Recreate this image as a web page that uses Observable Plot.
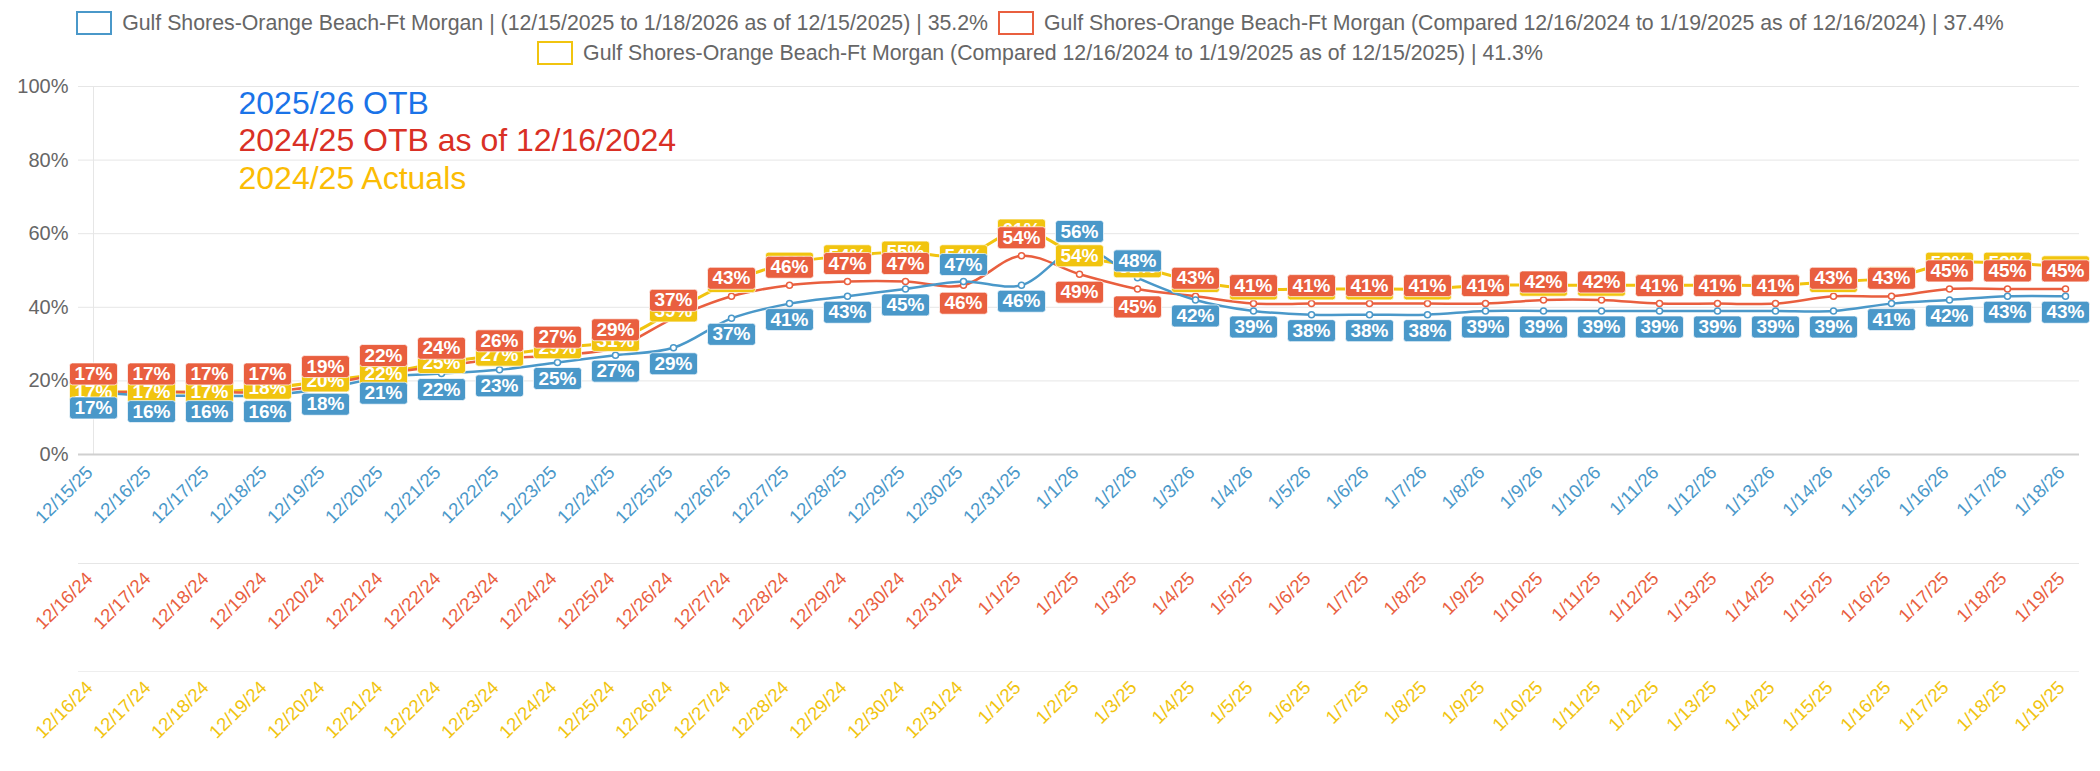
<!DOCTYPE html>
<html>
<head>
<meta charset="utf-8">
<script src="https://cdn.jsdelivr.net/npm/d3@7"></script>
<script src="https://cdn.jsdelivr.net/npm/@observablehq/plot@0.6"></script>
<style>
  body { margin: 0; background: #fff; font-family: "Liberation Sans", Arial, sans-serif; }
  #legend { width: 2080px; height: 70px; padding-top: 8px; box-sizing: border-box; }
  .row { display: flex; justify-content: center; align-items: center; height: 30px; }
  .item { display: flex; align-items: center; margin: 0 5px; font-size: 21.3px; color: #666; white-space: nowrap; }
  .swatch { width: 32px; height: 20px; border: 2px solid; background: #fff; margin-right: 10px; box-sizing: content-box; }
</style>
</head>
<body>
<div id="legend"></div>
<div id="chart"></div>
<script>
// ---- data ----
const ticks2526 = ["12/15/25","12/16/25","12/17/25","12/18/25","12/19/25","12/20/25","12/21/25","12/22/25","12/23/25","12/24/25","12/25/25","12/26/25","12/27/25","12/28/25","12/29/25","12/30/25","12/31/25","1/1/26","1/2/26","1/3/26","1/4/26","1/5/26","1/6/26","1/7/26","1/8/26","1/9/26","1/10/26","1/11/26","1/12/26","1/13/26","1/14/26","1/15/26","1/16/26","1/17/26","1/18/26"];
const ticks2425 = ["12/16/24","12/17/24","12/18/24","12/19/24","12/20/24","12/21/24","12/22/24","12/23/24","12/24/24","12/25/24","12/26/24","12/27/24","12/28/24","12/29/24","12/30/24","12/31/24","1/1/25","1/2/25","1/3/25","1/4/25","1/5/25","1/6/25","1/7/25","1/8/25","1/9/25","1/10/25","1/11/25","1/12/25","1/13/25","1/14/25","1/15/25","1/16/25","1/17/25","1/18/25","1/19/25"];

const otb2526 = [17,16,16,16,18,21,22,23,25,27,29,37,41,43,45,47,46,56,48,42,39,38,38,38,39,39,39,39,39,39,39,41,42,43,43];
const otb2425 = [17,17,17,17,19,22,24,26,27,29,37,43,46,47,47,46,54,49,45,43,41,41,41,41,41,42,42,41,41,41,43,43,45,45,45];
const actual2425 = [17,17,17,18,20,22,25,27,29,31,39,47,52,54,55,54,61,54,51,47,45,45,45,45,46,46,46,46,46,46,47,48,52,52,51];

const legendLabels = [
  "Gulf Shores-Orange Beach-Ft Morgan | (12/15/2025 to 1/18/2026 as of 12/15/2025) | 35.2%",
  "Gulf Shores-Orange Beach-Ft Morgan (Compared 12/16/2024 to 1/19/2025 as of 12/16/2024) | 37.4%",
  "Gulf Shores-Orange Beach-Ft Morgan (Compared 12/16/2024 to 1/19/2025 as of 12/15/2025) | 41.3%"
];
const annotations = ["2025/26 OTB", "2024/25 OTB as of 12/16/2024", "2024/25 Actuals"];
const yTicks = [0, 0.2, 0.4, 0.6, 0.8, 1];

// ---- styles ----
const BLUE = "#4a98c9", RED = "#e95f3f", YELLOW = "#f1c40f";
const ANN_COLORS = ["#1a73e8", "#d93025", "#fbbc04"];
const ANN_DY = [17, 54, 92];

// ---- legend ----
const legend = document.getElementById("legend");
const rows = [[0, 1], [2]];
const legColors = [BLUE, RED, YELLOW];
rows.forEach(r => {
  const row = document.createElement("div");
  row.className = "row";
  r.forEach(i => {
    const it = document.createElement("div");
    it.className = "item";
    const sw = document.createElement("span");
    sw.className = "swatch";
    sw.style.borderColor = legColors[i];
    it.appendChild(sw);
    it.appendChild(document.createTextNode(legendLabels[i]));
    row.appendChild(it);
  });
  legend.appendChild(row);
});

// ---- table ----
const idx = d3.range(ticks2526.length);
const rowsData = idx.map(i => ({i, blue: otb2526[i] / 100, red: otb2425[i] / 100, yellow: actual2425[i] / 100}));
const redAbove = rowsData.filter(d => d.red >= d.blue);
const redBelow = rowsData.filter(d => d.red < d.blue);
const blueAbove = rowsData.filter(d => d.blue > d.red);
const blueBelow = rowsData.filter(d => d.blue <= d.red);

const pct = v => Math.round(v * 100) + "%";

const boxSymbol = {
  draw(ctx) {
    const w = 48, h = 22, r = 3;
    ctx.moveTo(-w / 2 + r, -h / 2);
    ctx.lineTo(w / 2 - r, -h / 2);
    ctx.arcTo(w / 2, -h / 2, w / 2, -h / 2 + r, r);
    ctx.lineTo(w / 2, h / 2 - r);
    ctx.arcTo(w / 2, h / 2, w / 2 - r, h / 2, r);
    ctx.lineTo(-w / 2 + r, h / 2);
    ctx.arcTo(-w / 2, h / 2, -w / 2, h / 2 - r, r);
    ctx.lineTo(-w / 2, -h / 2 + r);
    ctx.arcTo(-w / 2, -h / 2, -w / 2 + r, -h / 2, r);
    ctx.closePath();
  }
};

function labelMarks(data, key, color, dy) {
  return [
    Plot.dot(data, {x: "i", y: key, r: 3, symbol: boxSymbol, fill: color, stroke: "#ffffff", strokeOpacity: 0.7, strokeWidth: 1, dy}),
    Plot.text(data, {x: "i", y: key, text: d => pct(d[key]), fill: "white", fontWeight: "bold", fontSize: 19, dy})
  ];
}

const W = 2100, H = 701;
const chart = Plot.plot({
  width: W,
  height: H,
  marginLeft: 78,
  marginRight: 21,
  marginTop: 16,
  marginBottom: 317,
  style: {fontFamily: "'Liberation Sans', Arial, sans-serif", background: "white", overflow: "visible"},
  x: {type: "point", domain: idx, padding: 0, axis: null},
  y: {domain: [0, 1], axis: null},
  marks: [
    Plot.gridY(yTicks, {stroke: "#e6e6e6", strokeOpacity: 1}),
    Plot.ruleX([0], {stroke: "#e6e6e6"}),
    Plot.axisY(yTicks, {tickFormat: pct, tickSize: 0, tickPadding: 10, fontSize: 20, color: "#666"}),
    Plot.ruleY([0], {stroke: "#d0d0d0", strokeWidth: 2}),
    Plot.ruleY([0], {stroke: "#e6e6e6", dy: 109}),
    Plot.ruleY([0], {stroke: "#eeeeee", dy: 217}),
    Plot.axisX(idx, {tickFormat: i => ticks2526[i], tickRotate: -45, tickSize: 0, tickPadding: 6, fontSize: 18.5, color: BLUE, label: null, dx: -4, dy: 9}),
    Plot.axisX(idx, {tickFormat: i => ticks2425[i], tickRotate: -45, tickSize: 0, tickPadding: 6, fontSize: 18.5, color: RED, label: null, dx: -4, dy: 115}),
    Plot.axisX(idx, {tickFormat: i => ticks2425[i], tickRotate: -45, tickSize: 0, tickPadding: 6, fontSize: 18.5, color: YELLOW, label: null, dx: -4, dy: 224}),
    ...annotations.map((a, k) => Plot.text([a], {frameAnchor: "top-left", text: d => d, fill: ANN_COLORS[k], fontSize: 32, textAnchor: "start", lineAnchor: "middle", dx: 160, dy: ANN_DY[k]})),
    Plot.line(rowsData, {x: "i", y: "yellow", stroke: YELLOW, strokeWidth: 3, curve: "catmull-rom"}),
    Plot.line(rowsData, {x: "i", y: "red", stroke: RED, strokeWidth: 2.5, curve: "catmull-rom"}),
    Plot.line(rowsData, {x: "i", y: "blue", stroke: BLUE, strokeWidth: 2.5, curve: "catmull-rom"}),
    Plot.dot(rowsData, {x: "i", y: "yellow", r: 3, fill: "white", stroke: YELLOW, strokeWidth: 1.5}),
    Plot.dot(rowsData, {x: "i", y: "red", r: 3, fill: "white", stroke: RED, strokeWidth: 1.5}),
    Plot.dot(rowsData, {x: "i", y: "blue", r: 3, fill: "white", stroke: BLUE, strokeWidth: 1.5}),
    ...labelMarks(rowsData, "yellow", YELLOW, 0),
    ...labelMarks(redAbove, "red", RED, -18),
    ...labelMarks(redBelow, "red", RED, 18),
    ...labelMarks(blueBelow, "blue", BLUE, 16),
    ...labelMarks(blueAbove, "blue", BLUE, -17)
  ]
});
document.getElementById("chart").appendChild(chart);
</script>
</body>
</html>
